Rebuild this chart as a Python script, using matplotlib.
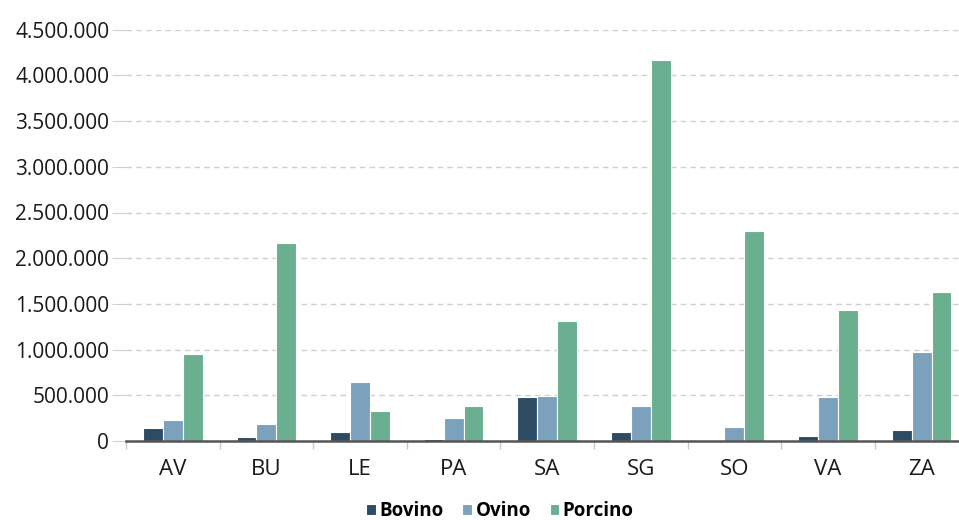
import matplotlib
matplotlib.use("Agg")
import matplotlib.pyplot as plt
import numpy as np
from matplotlib.ticker import FuncFormatter

categories = ["AV", "BU", "LE", "PA", "SA", "SG", "SO", "VA", "ZA"]
bovino = [142000, 44000, 95000, 22000, 485000, 102000, 0, 58000, 117000]
ovino = [230000, 190000, 642000, 252000, 490000, 380000, 157000, 485000, 970000]
porcino = [949000, 2166000, 332000, 386000, 1313000, 4170000, 2300000, 1433000, 1630000]
series_names = ["Bovino", "Ovino", "Porcino"]
colors = ["#2d4b63", "#7ba1bd", "#6aaf8f"]

plt.rcParams['font.family'] = ['Open Sans', 'DejaVu Sans']

fig = plt.figure(figsize=(9.59, 5.2), dpi=100)
ax = fig.add_axes([126/959, 79/520, 842.4/959, (441-29.7)/520])

x = np.arange(len(categories))
w = 0.212
for i, (vals, name, c) in enumerate(zip([bovino, ovino, porcino], series_names, colors)):
    ax.bar(x + (i - 1) * w, vals, width=w, color=c, edgecolor="white", linewidth=0.8, label=name, zorder=3)

ax.set_xlim(-0.5, len(categories) - 0.5)
ax.set_ylim(0, 4500000)
ax.set_yticks(np.arange(0, 4500001, 500000))
ax.yaxis.set_major_formatter(FuncFormatter(lambda v, p: f"{int(v):,}".replace(",", ".")))
ax.grid(axis="y", color="#cfcfcf", linestyle=(0, (4, 3)), linewidth=1, zorder=0)

ax.set_xticks(x)
ax.set_xticklabels(categories)
ax.set_xticks(np.arange(-0.5, len(categories), 1), minor=True)
ax.tick_params(axis="x", which="major", length=0, labelsize=16, pad=13, labelcolor="#1a1a1a")
ax.tick_params(axis="x", which="minor", length=6, color="#c8c8c8", width=1)
ax.tick_params(axis="y", length=10, color="#d0d0d0", width=0.8, labelsize=15, pad=2, labelcolor="#1a1a1a")

for s in ["top", "right", "left"]:
    ax.spines[s].set_visible(False)
ax.spines["bottom"].set_color("#555555")
ax.spines["bottom"].set_linewidth(1.8)
ax.spines["bottom"].set_zorder(4)

leg = fig.legend(loc="center", bbox_to_anchor=(500/959, 9/520), ncol=3, frameon=False,
                 prop={"weight": "bold", "size": 13.5}, handlelength=0.5, handleheight=0.5,
                 handletextpad=0.2, columnspacing=1.0)

fig.savefig("out.png", dpi=100)
